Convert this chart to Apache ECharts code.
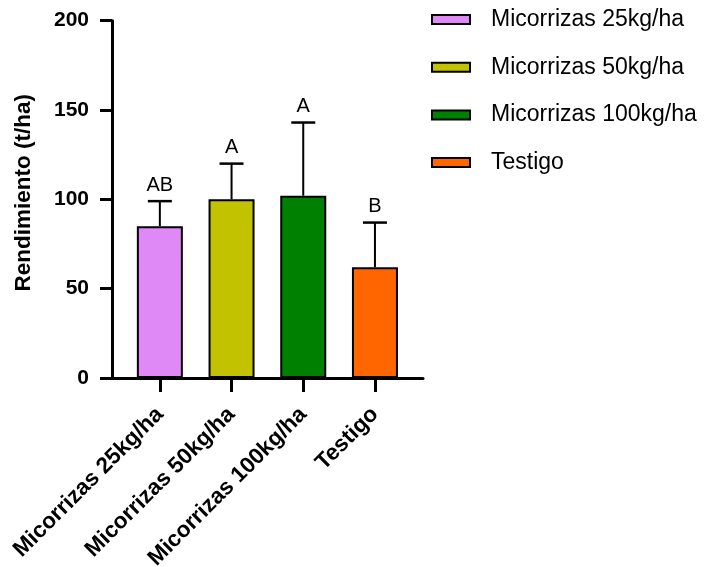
<!DOCTYPE html>
<html>
<head>
<meta charset="utf-8">
<script src="https://cdn.jsdelivr.net/npm/echarts@6/dist/echarts.min.js"></script>
<style>
  html, body { margin: 0; padding: 0; background: #fff; }
  #chart { width: 706px; height: 567px; }
</style>
</head>
<body>
<div id="chart"></div>
<script>
// Treatments and measured yield (mean + upper error)
const categories = ['Micorrizas 25kg/ha', 'Micorrizas 50kg/ha', 'Micorrizas 100kg/ha', 'Testigo'];
const means = [85, 100, 102, 62];
const errorTops = [99, 120, 143, 87];
const letters = ['AB', 'A', 'A', 'B'];
const colors = ['#DE89F5', '#C2C200', '#008000', '#FF6600'];
const yTicks = { min: 0, max: 200, interval: 50 };

const FONT = 'Liberation Sans, Arial, sans-serif';
const chart = echarts.init(document.getElementById('chart'), null, { renderer: 'canvas' });

// One bar series per treatment so each appears in the legend
const barSeries = categories.map((name, i) => ({
  name: name,
  type: 'bar',
  xAxisIndex: 1,
  yAxisIndex: 1,
  barWidth: 46,
  barGap: '-100%',
  itemStyle: { color: colors[i], borderColor: '#000', borderWidth: 2 },
  data: categories.map((_, j) => (j === i ? means[i] : '-')),
  z: 3
}));

// Error bars with significance letters
const errorSeries = {
  type: 'custom',
  xAxisIndex: 1,
  yAxisIndex: 1,
  z: 2,
  data: categories.map((_, i) => [i, means[i], errorTops[i]]),
  renderItem: function (params, api) {
    const idx = api.value(0);
    const base = api.coord([idx, api.value(1)]);
    const top = api.coord([idx, api.value(2)]);
    const letter = letters[params.dataIndex];
    return {
      type: 'group',
      children: [
        { type: 'line', shape: { x1: base[0], y1: base[1], x2: top[0], y2: top[1] },
          style: { stroke: '#000', lineWidth: 2 } },
        { type: 'line', shape: { x1: top[0] - 12, y1: top[1], x2: top[0] + 12, y2: top[1] },
          style: { stroke: '#000', lineWidth: 2.5 } },
        { type: 'text', x: top[0], y: top[1] - 6,
          style: { text: letter, fill: '#000', font: '20px ' + FONT,
                   align: 'center', verticalAlign: 'bottom' } }
      ]
    };
  }
};

chart.setOption({
  animation: false,
  backgroundColor: '#fff',
  legend: {
    orient: 'vertical',
    left: 431,
    top: 8,
    padding: 0,
    itemWidth: 38,
    itemHeight: 9,
    itemGap: 24.7,
    icon: 'rect',
    data: categories,
    textStyle: { fontFamily: FONT, fontSize: 23, color: '#000', lineHeight: 20, padding: [0, 0, 0, 16] }
  },
  // Frame grid for the axis lines, and an inner grid holding the bars
  grid: [
    { left: 112, top: 20.7, width: 311, height: 357.3, outerBoundsMode: 'none', containLabel: false },
    { left: 124, top: 20.7, width: 286.8, height: 357.3, outerBoundsMode: 'none', containLabel: false }
  ],
  xAxis: [
    { gridIndex: 0, type: 'value', min: 0, max: 1,
      axisLine: { show: true, lineStyle: { color: '#000', width: 3 } },
      axisTick: { show: false }, axisLabel: { show: false }, splitLine: { show: false } },
    { gridIndex: 1, type: 'category', data: categories, boundaryGap: true,
      axisLine: { show: false },
      axisTick: { show: true, alignWithLabel: true, length: 14, lineStyle: { color: '#000', width: 3 } },
      axisLabel: { rotate: 45, margin: 33, color: '#000', fontFamily: FONT, fontWeight: 'bold', fontSize: 22.5, interval: 0 },
      splitLine: { show: false } }
  ],
  yAxis: [
    { gridIndex: 0, type: 'value', min: yTicks.min, max: yTicks.max, interval: yTicks.interval,
      name: 'Rendimiento (t/ha)', nameLocation: 'middle', nameGap: 77,
      nameTextStyle: { fontFamily: FONT, fontWeight: 'bold', fontSize: 22.5, color: '#000', padding: [0, 0, 0, 13] },
      axisLine: { show: true, lineStyle: { color: '#000', width: 3 } },
      axisTick: { show: true, length: 12, lineStyle: { color: '#000', width: 3 } },
      axisLabel: { margin: 23, color: '#000', fontFamily: FONT, fontWeight: 'bold', fontSize: 21 },
      splitLine: { show: false } },
    { gridIndex: 1, type: 'value', min: yTicks.min, max: yTicks.max, interval: yTicks.interval,
      show: false, splitLine: { show: false } }
  ],
  series: barSeries.concat([errorSeries])
});
</script>
</body>
</html>
